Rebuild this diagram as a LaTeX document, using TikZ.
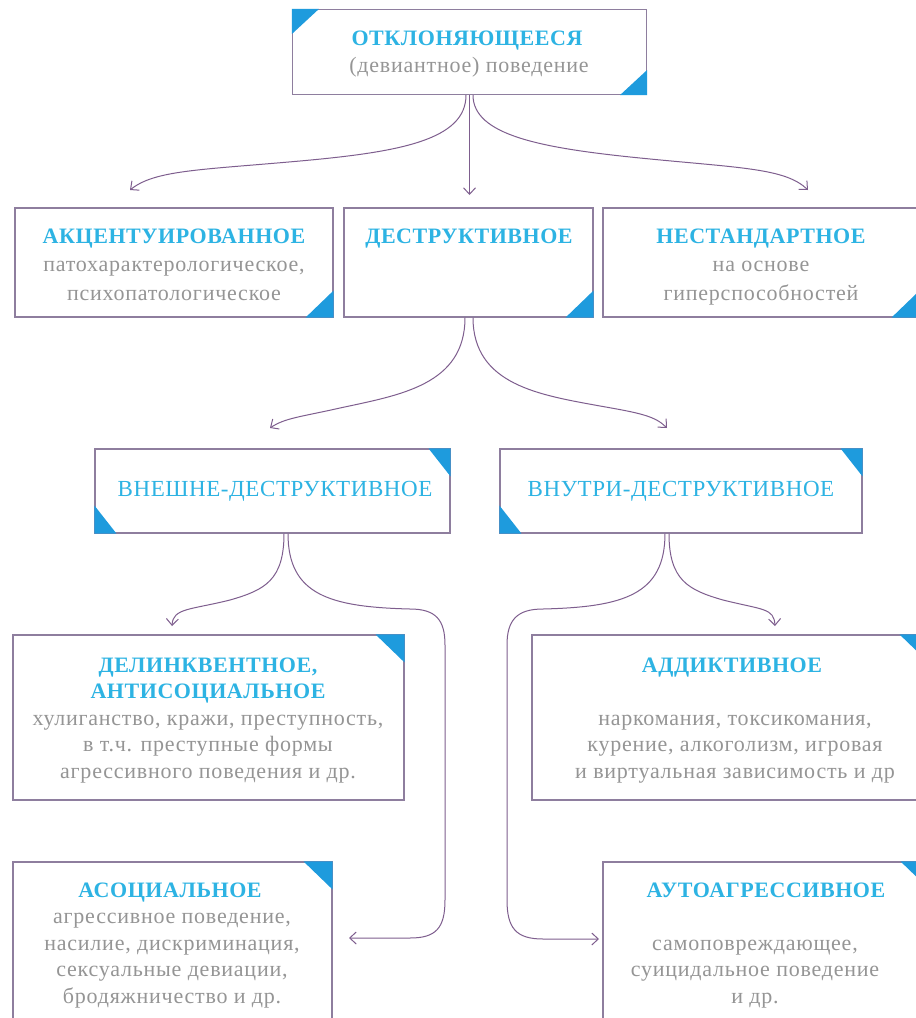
\documentclass[tikz,border=0pt]{standalone}
\usepackage{fontspec}
\setmainfont{Liberation Serif}
\newfontfamily\ttlfont{Liberation Serif}[LetterSpace=2.5]
\newfontfamily\bodyfont{Liberation Serif}[LetterSpace=3.5]
\usetikzlibrary{arrows.meta}
\definecolor{titc}{HTML}{2DB3E3}
\definecolor{txtc}{HTML}{959595}
\definecolor{boxc}{HTML}{8E7E9E}
\definecolor{linec}{HTML}{7E5E8E}
\definecolor{cornc}{HTML}{1E9BDD}
\tikzset{
  box/.style={draw=boxc, line width=1.1pt, inner sep=0pt, fill=white},
  ttl/.style={font=\ttlfont\bfseries\fontsize{22}{26.5}\selectfont, text=titc, anchor=base, inner sep=0pt},
  ttlr/.style={font=\ttlfont\fontsize{23}{26.5}\selectfont, text=titc, anchor=base, inner sep=0pt},
  body/.style={font=\bodyfont\fontsize{22}{26.5}\selectfont, text=txtc, anchor=base, inner sep=0pt},
  bodyw/.style={font=\bodyfont\fontsize{22}{29}\selectfont, text=txtc, anchor=base, inner sep=0pt},
  conn/.style={draw=linec, line width=1pt, -{Straight Barb[length=6.5pt,width=12pt]}},
  cornf/.style={fill=cornc}
}
\begin{document}
\begin{tikzpicture}[x=1pt,y=-1pt]
\useasboundingbox (0,0) rectangle (916,1018);
\fill[white] (0,0) rectangle (916,1018);

% ---------- boxes ----------
\node[box, minimum width=354, minimum height=85] (T) at (469.5,52) {};
\node[box, minimum width=318, minimum height=109] (A) at (174,262.5) {};
\node[box, minimum width=249, minimum height=109] (D) at (468.5,262.5) {};
\node[box, minimum width=316, minimum height=109] (N) at (761,262.5) {};
\node[box, minimum width=355, minimum height=84] (V1) at (272.5,491) {};
\node[box, minimum width=362, minimum height=84] (V2) at (681,491) {};
\node[box, minimum width=391, minimum height=165] (L4) at (208.5,717.5) {};
\node[box, minimum width=396, minimum height=165] (R4) at (730,717.5) {};
\node[box, minimum width=319, minimum height=178] (L5) at (172.5,951) {};
\node[box, minimum width=326, minimum height=178] (R5) at (766,951) {};

% ---------- corner triangles ----------
\fill[cornf] (T.north west) -- ++(27,0) -- ++(-27,25) -- cycle;
\fill[cornf] (T.south east) -- ++(-27,0) -- ++(27,-25) -- cycle;
\fill[cornf] (A.south east) -- ++(-28,0) -- ++(28,-27) -- cycle;
\fill[cornf] (D.south east) -- ++(-28,0) -- ++(28,-27) -- cycle;
\fill[cornf] (N.south east) -- ++(-28,0) -- ++(28,-27) -- cycle;
\fill[cornf] (V1.north east) -- ++(-22,0) -- ++(22,28) -- cycle;
\fill[cornf] (V1.south west) -- ++(22,0) -- ++(-22,-28) -- cycle;
\fill[cornf] (V2.north east) -- ++(-22,0) -- ++(22,28) -- cycle;
\fill[cornf] (V2.south west) -- ++(22,0) -- ++(-22,-28) -- cycle;
\fill[cornf] (L4.north east) -- ++(-29,0) -- ++(29,28) -- cycle;
\fill[cornf] (R4.north east) -- ++(-29,0) -- ++(29,28) -- cycle;
\fill[cornf] (L5.north east) -- ++(-29,0) -- ++(29,28) -- cycle;
\fill[cornf] (R5.north east) -- ++(-29,0) -- ++(29,28) -- cycle;

% ---------- texts ----------
\node[ttl] (Tt) at (467,45) {ОТКЛОНЯЮЩЕЕСЯ};
\node[bodyw] (Tb) at (469,72) {(девиантное) поведение};

\node[ttl] (At) at (174,243.5) {АКЦЕНТУИРОВАННОЕ};
\node[bodyw] (Ab) at (174,271) {\begin{tabular}[t]{@{}c@{}}патохарактерологическое,\\ психопатологическое\end{tabular}};
\node[ttl] (Dt) at (469,243.5) {ДЕСТРУКТИВНОЕ};
\node[ttl] (Nt) at (761,243.5) {НЕСТАНДАРТНОЕ};
\node[bodyw] (Nb) at (761,271) {\begin{tabular}[t]{@{}c@{}}на основе\\ гиперспособностей\end{tabular}};

\node[ttlr] (V1t) at (275,496) {ВНЕШНЕ-ДЕСТРУКТИВНОЕ};
\node[ttlr] (V2t) at (681,496) {ВНУТРИ-ДЕСТРУКТИВНОЕ};

\node[ttl] (L4t) at (208,672) {\begin{tabular}[t]{@{}c@{}}ДЕЛИНКВЕНТНОЕ,\\ АНТИСОЦИАЛЬНОЕ\end{tabular}};
\node[body] (L4b) at (208,725) {\begin{tabular}[t]{@{}c@{}}хулиганство, кражи, преступность,\\ в т.ч. преступные формы\\ агрессивного поведения и др.\end{tabular}};
\node[ttl] (R4t) at (732,672) {АДДИКТИВНОЕ};
\node[body] (R4b) at (735,725) {\begin{tabular}[t]{@{}c@{}}наркомания, токсикомания,\\ курение, алкоголизм, игровая\\ и виртуальная зависимость и др\end{tabular}};

\node[ttl] (L5t) at (170,897) {АСОЦИАЛЬНОЕ};
\node[body] (L5b) at (172,923.5) {\begin{tabular}[t]{@{}c@{}}агрессивное поведение,\\ насилие, дискриминация,\\ сексуальные девиации,\\ бродяжничество и др.\end{tabular}};
\node[ttl] (R5t) at (766,897) {АУТОАГРЕССИВНОЕ};
\node[body] (R5b) at (755,950) {\begin{tabular}[t]{@{}c@{}}самоповреждающее,\\ суицидальное поведение\\ и др.\end{tabular}};

% ---------- arrow end points ----------
\coordinate (eA) at (130,190);
\coordinate (eD) at (469.5,195);
\coordinate (eN) at (808,190);
\coordinate (eV1) at (270,428);
\coordinate (eV2) at (667,428);
\coordinate (eL4) at (172,626);
\coordinate (eR4) at (775,626);
\coordinate (eL5) at (349,938);
\coordinate (eR5) at (599,939);

% ---------- connectors ----------
\draw[conn] ([xshift=-3.5pt]T.south) .. controls (466,140) and (400,152) .. (300,161)
   .. controls (200,170) and (155,170) .. (eA);
\draw[conn] (T.south) -- (eD);
\draw[conn] ([xshift=3.5pt]T.south) .. controls (473,135) and (540,148) .. (640,158)
   .. controls (740,168) and (785,168) .. (eN);

\draw[conn] ([xshift=-3.5pt]D.south) .. controls (465,385) and (400,395) .. (340,408)
   .. controls (300,417) and (285,418) .. (eV1);
\draw[conn] ([xshift=4.5pt]D.south) .. controls (473,385) and (540,395) .. (600,406)
   .. controls (640,413) and (655,416) .. (eV2);

\draw[conn] ([xshift=11.5pt]V1.south) .. controls (284,580) and (265,590) .. (230,600)
   .. controls (190,610) and (173,608) .. (eL4);
\draw[conn] ([xshift=15.5pt]V1.south) .. controls (288,595) and (330,607) .. (410,609)
   .. controls (436,609) and (445,620) .. (445,645) -- (445,900)
   .. controls (445,928) and (436,938) .. (410,938) -- (eL5);

\draw[conn] ([xshift=-12pt]V2.south) .. controls (669,580) and (688,590) .. (723,600)
   .. controls (763,610) and (774,608) .. (eR4);
\draw[conn] ([xshift=-16pt]V2.south) .. controls (665,595) and (623,607) .. (543,609)
   .. controls (517,609) and (507,620) .. (507,645) -- (507,900)
   .. controls (507,928) and (516,939) .. (543,939) -- (eR5);
\end{tikzpicture}
\end{document}
